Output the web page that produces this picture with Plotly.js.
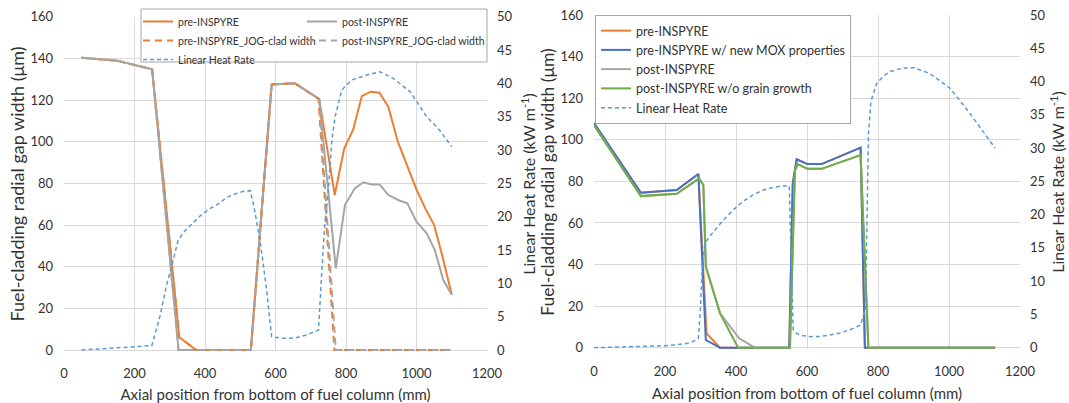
<!DOCTYPE html>
<html><head><meta charset="utf-8">
<script src="https://cdn.plot.ly/plotly-3.0.1.min.js"></script>
<style>html,body{margin:0;padding:0;background:#fff}#chart{width:1069px;height:403px}</style>
</head><body><div id="chart"></div>
<script>
// ---------- LEFT CHART DATA ----------
const preX  = [50,150,250,327,375,530,589,655,724,768,795,820,845,870,895,920,947,973,1000,1025,1050,1075,1100];
const preY  = [140.3,138.9,134.8,6.1,0,0,127.5,128,120.5,74.4,96.8,105.6,121.9,124,123.5,116.8,100,89,77,68,60,44,26.5];
const postX = [50,150,250,325,530,589,655,724,771,797,825,849,873,896,920,948,974,1000,1029,1052,1076,1100];
const postY = [140.3,138.9,134.8,0,0,127.5,128,120.5,39.2,69.6,77.6,80.5,79.5,79.4,74.4,72,70.4,61.6,56,48,33.6,26.5];
const preJogX  = [50,150,250,327,375,530,589,655,722,767,1100];
const preJogY  = [140.3,138.9,134.8,6.1,0,0,127.5,128,120.5,0,0];
const postJogX = [50,150,250,325,530,589,655,724,771,1100];
const postJogY = [140.3,138.9,134.8,0,0,127.5,128,120.5,0,0];
const lhrLX = [50,100,150,200,249,272,290,305,324,345,367,390,414,440,462,490,510,528,537,556,575,589,620,650,688,722,731,740,750,759,769,788,816,859,896,934,982,1029,1065,1100];
const lhrLY = [0,0.15,0.3,0.45,0.65,5,9.5,12.5,16.5,18,19.2,20.3,21.2,22,22.9,23.5,23.8,23.9,22,16.5,9,2,1.75,1.75,2.25,3,11.5,19,24,31,35,39,40.5,41.25,41.75,40.75,38.75,35,33,30.5];

// ---------- RIGHT CHART DATA ----------
const rPreX  = [0,132,233,294,317,355,550,560,571,601,641,751,763,1130];
const rPreY  = [108,74.5,75.8,83.5,6.9,0,0,79,90.6,88.3,88.3,96.2,0,0];
const rMoxX  = [0,132,233,294,315,355,550,560,571,601,641,751,763,1130];
const rMoxY  = [108,74.5,75.8,83.5,3.7,0,0,79,90.6,88.3,88.3,96.2,0,0];
const rPostX = [0,132,233,296,308,315,355,409,453,552,566,573,601,641,751,773,1130];
const rPostY = [107,72.9,74,81.4,78.2,39,16.5,4.5,0,0,85,88.3,86,86,92.6,0,0];
const rGgX   = [0,132,233,296,308,315,355,406,552,566,573,601,641,751,773,1130];
const rGgY   = [107,72.9,74,81.4,78.2,39,16.5,0,0,85,88.3,86,86,92.6,0,0];
const lhrRX = [0,50,100,150,200,250,270,285,294,300,305,312,320,336,365,392,420,449,477,505,530,550,553,557,561,570,580,608,637,665,693,721,751,765,769,773,780,796,815,834,867,900,946,1003,1059,1095,1130];
const lhrRY = [0,0.05,0.1,0.15,0.3,0.55,0.75,1.1,1.4,6,12,15.5,16.3,17.4,19.2,20.7,22,23,23.7,24.1,24.3,24.3,18,8,2.7,2.2,1.9,1.65,1.7,1.9,2.2,2.7,3.4,6,20,32,37,39.7,40.8,41.5,42,42.1,41.2,39,35.2,32.5,30];

const xTickVals = [0,200,400,600,800,1000,1200];
const yTitle = 'Fuel-cladding radial gap width (μm)';
const y2Title = 'Linear Heat Rate (kW m<sup>-1</sup>)';
const xTitle = 'Axial position from bottom of fuel column (mm)';

// ---------- STYLE ----------
const W = 1069, H = 403;
const FONT = 'Lato, "Open Sans", sans-serif';
const TXT = '#333333';
const ORANGE = '#ED7D31', GRAY = '#A5A5A5', BLUE = '#4472C4', GREEN = '#70AD47', LBLUE = '#5B9BD5';
const px = v => v / W, py = v => 1 - v / H;

const traces = [
  {x: preX, y: preY, name: 'pre-INSPYRE', mode: 'lines', line: {color: ORANGE, width: 2}, xaxis: 'x', yaxis: 'y', legend: 'legend'},
  {x: postX, y: postY, name: 'post-INSPYRE', mode: 'lines', line: {color: GRAY, width: 2}, xaxis: 'x', yaxis: 'y', legend: 'legend2'},
  {x: preJogX, y: preJogY, name: 'pre-INSPYRE_JOG-clad width', mode: 'lines', line: {color: ORANGE, width: 2, dash: '7px,5px'}, xaxis: 'x', yaxis: 'y', legend: 'legend'},
  {x: postJogX, y: postJogY, name: 'post-INSPYRE_JOG-clad width', mode: 'lines', line: {color: GRAY, width: 2, dash: '7px,5px'}, xaxis: 'x', yaxis: 'y', legend: 'legend2'},
  {x: lhrLX, y: lhrLY, name: 'Linear Heat Rate', mode: 'lines', line: {color: LBLUE, width: 1.5, dash: '4px,3px'}, xaxis: 'x', yaxis: 'y2', legend: 'legend'},

  {x: rPreX, y: rPreY, name: 'pre-INSPYRE', mode: 'lines', line: {color: ORANGE, width: 2}, xaxis: 'x2', yaxis: 'y3', legend: 'legend3'},
  {x: rMoxX, y: rMoxY, name: 'pre-INSPYRE w/ new MOX properties', mode: 'lines', line: {color: BLUE, width: 2}, xaxis: 'x2', yaxis: 'y3', legend: 'legend3'},
  {x: rPostX, y: rPostY, name: 'post-INSPYRE', mode: 'lines', line: {color: GRAY, width: 2}, xaxis: 'x2', yaxis: 'y3', legend: 'legend3'},
  {x: rGgX, y: rGgY, name: 'post-INSPYRE w/o grain growth', mode: 'lines', line: {color: GREEN, width: 2}, xaxis: 'x2', yaxis: 'y3', legend: 'legend3'},
  {x: lhrRX, y: lhrRY, name: 'Linear Heat Rate', mode: 'lines', line: {color: LBLUE, width: 1.5, dash: '4px,3px'}, xaxis: 'x2', yaxis: 'y4', legend: 'legend3'}
];

const gridAx = {
  showgrid: true, gridcolor: '#d9d9d9', gridwidth: 1, zeroline: false, showline: false, automargin: false,
  ticks: '', tickfont: {family: FONT, size: 13, color: TXT}, fixedrange: true
};
const xT = s => ({text: xTitle, standoff: s, font: {family: FONT, size: 15, color: TXT}});
const lYpad = 0.6, rYpad = 0.6;
const layout = {
  width: W, height: H, margin: {l: 0, r: 0, t: 0, b: 0},
  paper_bgcolor: '#fff', plot_bgcolor: '#fff', showlegend: true,
  font: {family: FONT, color: TXT},
  xaxis: Object.assign({}, gridAx, {domain: [px(64), px(487)], range: [0, 1200], tickvals: xTickVals, anchor: 'y', ticklabelstandoff: 13, title: xT(10)}),
  yaxis: Object.assign({}, gridAx, {domain: [py(350 + lYpad * 2.083), py(16.7)], range: [-lYpad, 160], dtick: 20, anchor: 'x', ticklabelstandoff: 10,
    title: {text: yTitle, standoff: 1, font: {family: FONT, size: 18, color: TXT}}}),
  yaxis2: Object.assign({}, gridAx, {overlaying: 'y', side: 'right', anchor: 'x', range: [-lYpad * 50 / 160, 50], dtick: 5, showgrid: false, ticklabelstandoff: 9,
    title: {text: y2Title, standoff: 12, font: {family: FONT, size: 16, color: TXT}}}),
  xaxis2: Object.assign({}, gridAx, {domain: [px(594), px(1020)], range: [0, 1200], tickvals: xTickVals, anchor: 'y3', ticklabelstandoff: 13, title: xT(10)}),
  yaxis3: Object.assign({}, gridAx, {domain: [py(347.7 + rYpad * 2.08), py(15)], range: [-rYpad, 160], dtick: 20, anchor: 'x2', ticklabelstandoff: 10,
    title: {text: yTitle, standoff: 1, font: {family: FONT, size: 17.5, color: TXT}}}),
  yaxis4: Object.assign({}, gridAx, {overlaying: 'y3', side: 'right', anchor: 'x2', range: [-rYpad * 50 / 160, 50], dtick: 5, showgrid: false, ticklabelstandoff: 9,
    title: {text: y2Title, standoff: 8, font: {family: FONT, size: 16, color: TXT}}}),
  legend:  {x: px(138), y: py(7), xanchor: 'left', yanchor: 'top', bgcolor: 'rgba(0,0,0,0)', borderwidth: 0, font: {family: FONT, size: 10.5, color: TXT}, traceorder: 'normal'},
  legend2: {x: px(302), y: py(7), xanchor: 'left', yanchor: 'top', bgcolor: 'rgba(0,0,0,0)', borderwidth: 0, font: {family: FONT, size: 10.5, color: TXT}, traceorder: 'normal'},
  legend3: {x: px(595), y: py(15), xanchor: 'left', yanchor: 'top', bgcolor: '#fff', bordercolor: '#a6a6a6', borderwidth: 1, font: {family: FONT, size: 12.5, color: TXT}, traceorder: 'normal'},
  shapes: [
    {type: 'rect', xref: 'paper', yref: 'paper', x0: px(141), x1: px(487), y0: py(62), y1: py(9), line: {color: '#a6a6a6', width: 1}, fillcolor: '#ffffff', layer: 'above'}
  ]
};

Plotly.newPlot('chart', traces, layout, {displayModeBar: false, staticPlot: true});
</script></body></html>
